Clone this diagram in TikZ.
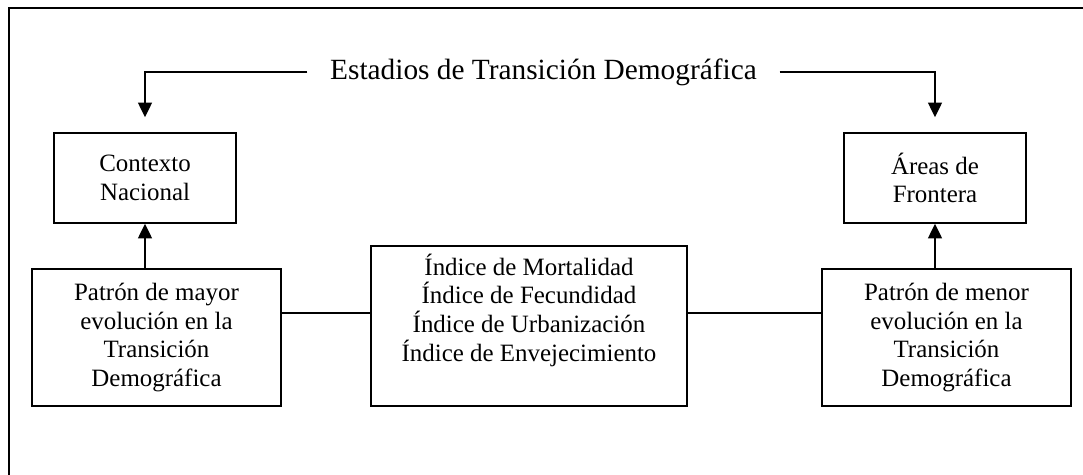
\documentclass[tikz,border=0pt]{standalone}
\usepackage{fontspec}
\setmainfont{Liberation Serif}
\usetikzlibrary{arrows.meta, positioning}

\begin{document}
\begin{tikzpicture}[x=0.75pt, y=0.75pt,
  caja/.style={draw, line width=1.2pt, align=center, inner sep=0pt,
    font=\fontsize{18.7}{21.5}\selectfont},
  linea/.style={line width=1.2pt},
  flecha/.style={linea, -{Triangle[length=11pt, width=10.5pt]}}]
\useasboundingbox (0,0) rectangle (1083,475);
% Outer frame (runs off the page at right and bottom)
\draw[linea] (9,-30) rectangle (1110,467);
% Title
\node[font=\fontsize{22}{26}\selectfont, inner xsep=17pt] (titulo) at (543.5,403) {Estadios de Transición Demográfica};
% Upper boxes
\node[caja, minimum width=136.5pt, minimum height=67.5pt] (contexto) at (145,297) {Contexto\\Nacional};
\node[caja, minimum width=136.5pt, minimum height=67.5pt] (areas) at (935,297) {Áreas de\\Frontera};
% Lower boxes
\node[caja, minimum width=186.75pt, minimum height=102.75pt] (mayor) at (156.5,137.5) {Patrón de mayor\\evolución en la\\Transición\\Demográfica};
\node[caja, minimum width=186.75pt, minimum height=102.75pt] (menor) at (946.5,137.5) {Patrón de menor\\evolución en la\\Transición\\Demográfica};
\node[caja, minimum width=237pt, minimum height=120pt] (indices) at (529,149) {Índice de Mortalidad\\Índice de Fecundidad\\Índice de Urbanización\\Índice de Envejecimiento\\\strut};
% Connectors
\coordinate (enlace) at (0,162);
\draw[flecha, shorten >=11.25pt] (titulo.west) -| (contexto.north);
\draw[flecha, shorten >=11.25pt] (titulo.east) -| (areas.north);
\draw[flecha] (mayor.north -| contexto.south) -- (contexto.south);
\draw[flecha] (menor.north -| areas.south) -- (areas.south);
\draw[linea] (mayor.east |- enlace) -- (indices.west |- enlace);
\draw[linea] (indices.east |- enlace) -- (menor.west |- enlace);
\end{tikzpicture}
\end{document}
